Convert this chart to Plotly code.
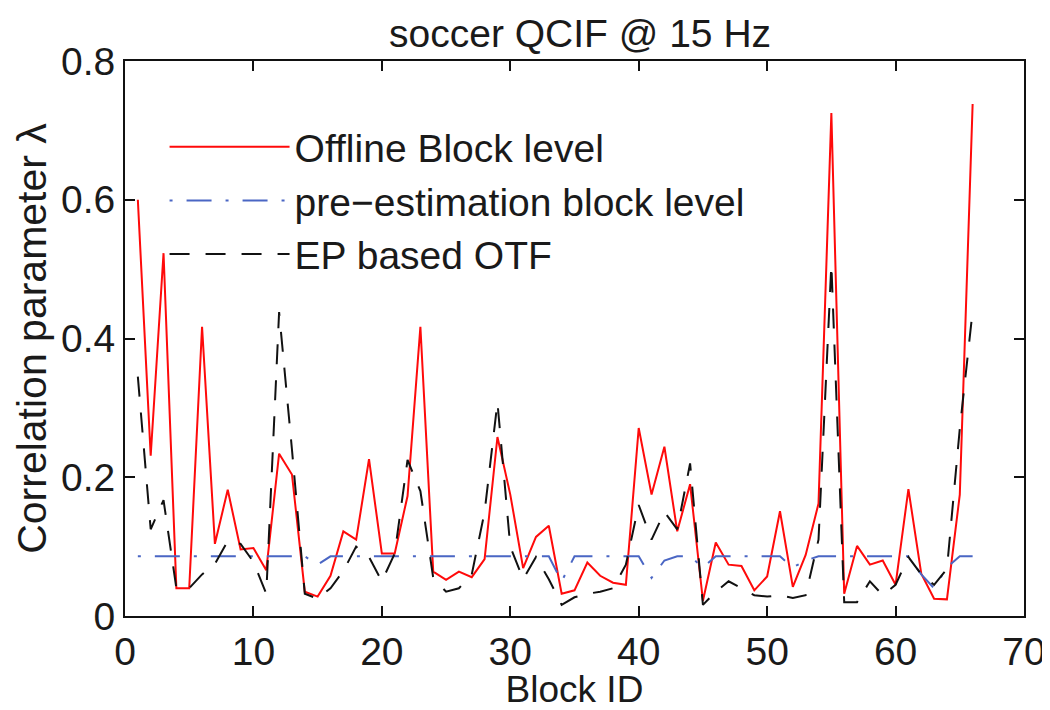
import plotly.graph_objects as go

block_id = list(range(1, 67))

offline_block = [0.60, 0.231, 0.523, 0.04, 0.04, 0.417, 0.104, 0.182, 0.096, 0.098,
                 0.066, 0.234, 0.204, 0.035, 0.028, 0.058, 0.122, 0.11, 0.226, 0.09,
                 0.09, 0.173, 0.417, 0.064, 0.052, 0.064, 0.056, 0.082, 0.258, 0.175,
                 0.069, 0.114, 0.13, 0.032, 0.037, 0.077, 0.058, 0.048, 0.045, 0.271,
                 0.175, 0.244, 0.122, 0.19, 0.022, 0.106, 0.074, 0.072, 0.037, 0.057,
                 0.151, 0.042, 0.088, 0.162, 0.725, 0.032, 0.101, 0.074, 0.08, 0.045,
                 0.183, 0.061, 0.025, 0.024, 0.175, 0.738]

pre_estimation = [0.086] * 14 + [0.074] + [0.086] * 18 + [0.05] + [0.086] * 6 + \
                 [0.055, 0.08, 0.086, 0.086, 0.07] + [0.086] * 6 + [0.07, 0.08] + \
                 [0.086] * 8 + [0.06, 0.04, 0.07, 0.086, 0.086]

ep_otf = [0.345, 0.125, 0.167, 0.04, 0.04, 0.06, 0.075, 0.108, 0.104, 0.078,
          0.032, 0.438, 0.24, 0.032, 0.025, 0.04, 0.065, 0.1, 0.085, 0.05,
          0.09, 0.225, 0.18, 0.055, 0.035, 0.04, 0.06, 0.15, 0.308, 0.1,
          0.053, 0.085, 0.053, 0.016, 0.027, 0.032, 0.035, 0.04, 0.074, 0.16,
          0.11, 0.15, 0.125, 0.22, 0.016, 0.035, 0.05, 0.04, 0.03, 0.028,
          0.03, 0.026, 0.03, 0.11, 0.507, 0.02, 0.02, 0.05, 0.03, 0.045,
          0.085, 0.06, 0.045, 0.068, 0.27, 0.44]

x_ticks = [0, 10, 20, 30, 40, 50, 60, 70]
y_ticks = [0, 0.2, 0.4, 0.6, 0.8]
y_tick_labels = ["0", "0.2", "0.4", "0.6", "0.8"]

FONT = "Liberation Sans"
TXT = "#1a1a1a"

fig = go.Figure()
fig.add_trace(go.Scatter(x=block_id, y=offline_block, mode="lines",
                         name="Offline Block level",
                         line=dict(color="#ff0a0a", width=2)))
fig.add_trace(go.Scatter(x=block_id, y=pre_estimation, mode="lines",
                         name="pre\u2212estimation block level",
                         line=dict(color="#4a66c4", width=2, dash="3px,14px,25px,14px")))
fig.add_trace(go.Scatter(x=block_id, y=ep_otf, mode="lines",
                         name="EP based OTF",
                         line=dict(color="#111111", width=2, dash="20px,16px")))

axis_common = dict(showline=True, linecolor="#111", linewidth=2, mirror="ticks",
                   ticks="inside", ticklen=10, tickwidth=2, tickcolor="#111",
                   showgrid=False, zeroline=False,
                   ticklabeloverflow="allow",
                   tickfont=dict(family=FONT, size=39, color=TXT))

# page body has an 8px margin, so the figure is sized to fit the 1050x710 window
fig.update_layout(
    width=1042, height=702,
    margin=dict(l=117, r=26, t=53, b=94),
    paper_bgcolor="white", plot_bgcolor="white",
    title=dict(text="soccer QCIF @ 15 Hz", x=0.549, xanchor="center",
               yref="container", y=0.984, yanchor="top",
               font=dict(family=FONT, size=39, color=TXT)),
    xaxis=dict(range=[0, 70], tickvals=x_ticks, automargin=False,
               title=dict(text="Block ID", font=dict(family=FONT, size=37, color=TXT), standoff=2),
               **axis_common),
    yaxis=dict(range=[0, 0.8], tickvals=y_ticks, ticktext=y_tick_labels, automargin=True,
               title=dict(text="Correlation parameter \u03bb", font=dict(family=FONT, size=41, color=TXT), standoff=2),
               **axis_common),
    legend=dict(x=0.044, y=0.903, xanchor="left", yanchor="top",
                bgcolor="rgba(0,0,0,0)", borderwidth=0,
                font=dict(family=FONT, size=39, color=TXT),
                itemwidth=120),
    showlegend=True,
)

fig.write_html("out.html")
